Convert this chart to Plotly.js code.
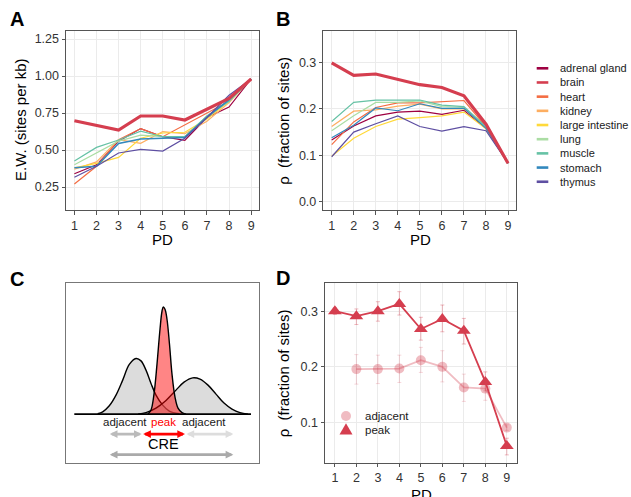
<!DOCTYPE html>
<html>
<head>
<meta charset="utf-8">
<script src="https://cdn.plot.ly/plotly-3.0.1.min.js"></script>
<style>
html,body{margin:0;padding:0;background:#fff;}
#chart{width:631px;height:497px;}
</style>
</head>
<body>
<div id="chart"></div>
<script>
// ---------------- DATA ----------------
const PD = [1, 2, 3, 4, 5, 6, 7, 8, 9];
const tissues = ['adrenal gland', 'brain', 'heart', 'kidney', 'large intestine', 'lung', 'muscle', 'stomach', 'thymus'];
const tissueColors = ['#9E0142', '#D53E4F', '#F46D43', '#FDAE61', '#FFD93A', '#ABDDA4', '#66C2A5', '#3288BD', '#5E4FA2'];

// Panel A: E.W. (sites per kb)
const ewAdrenalGland   = [0.34, 0.40, 0.56, 0.645, 0.59, 0.565, 0.72, 0.79, 0.98];
const ewBrain          = [0.698, 0.669, 0.635, 0.73, 0.73, 0.703, 0.775, 0.849, 0.98];
const ewHeart          = [0.27, 0.39, 0.57, 0.645, 0.59, 0.67, 0.75, 0.83, 0.98];
const ewKidney         = [0.37, 0.42, 0.57, 0.545, 0.625, 0.61, 0.695, 0.82, 0.98];
const ewLargeIntestine = [0.38, 0.41, 0.45, 0.58, 0.615, 0.62, 0.71, 0.83, 0.98];
const ewLung           = [0.40, 0.48, 0.56, 0.60, 0.59, 0.59, 0.73, 0.83, 0.98];
const ewMuscle         = [0.426, 0.518, 0.568, 0.628, 0.59, 0.59, 0.73, 0.83, 0.98];
const ewStomach        = [0.38, 0.39, 0.545, 0.575, 0.58, 0.585, 0.72, 0.84, 0.98];
const ewThymus         = [0.316, 0.39, 0.48, 0.505, 0.493, 0.58, 0.72, 0.87, 0.98];

// Panel B: rho (fraction of sites)
const rhoAdrenalGland   = [0.133, 0.163, 0.185, 0.193, 0.195, 0.188, 0.197, 0.158, 0.083];
const rhoBrain          = [0.299, 0.272, 0.275, 0.263, 0.252, 0.246, 0.228, 0.167, 0.083];
const rhoHeart          = [0.123, 0.172, 0.203, 0.213, 0.213, 0.215, 0.218, 0.162, 0.083];
const rhoKidney         = [0.162, 0.195, 0.198, 0.206, 0.210, 0.200, 0.200, 0.160, 0.083];
const rhoLargeIntestine = [0.098, 0.137, 0.162, 0.178, 0.181, 0.185, 0.193, 0.157, 0.083];
const rhoLung           = [0.153, 0.185, 0.214, 0.214, 0.217, 0.205, 0.203, 0.160, 0.083];
const rhoMuscle         = [0.173, 0.214, 0.219, 0.219, 0.219, 0.208, 0.205, 0.162, 0.083];
const rhoStomach        = [0.138, 0.165, 0.202, 0.196, 0.211, 0.201, 0.201, 0.158, 0.083];
const rhoThymus         = [0.097, 0.150, 0.168, 0.185, 0.162, 0.152, 0.162, 0.153, 0.083];

// Panel C: schematic density outlines (position, height)
const adjLeftPos   = [97.7, 102.7, 109.3, 116, 122.7, 129.3, 136, 141, 146, 151, 156, 162.7, 169.3, 179.3];
const adjLeftDens  = [0.3, 2.3, 8.3, 19, 34, 49.7, 55.7, 53.3, 44, 30.7, 19, 9, 3, 0.3];
const adjRightPos  = [138, 146, 156, 166, 176, 184, 192.7, 200, 208, 216, 224, 232, 240, 248];
const adjRightDens = [0, 1.5, 6, 13.7, 24, 32, 36.3, 35, 29, 20, 11, 5, 1.5, 0];
const peakPos      = [148, 151, 154, 157, 160, 162, 163.3, 165, 167, 169.5, 172, 175, 178, 182, 186];
const peakDens     = [0, 4, 20, 50, 85, 103, 107.3, 105, 95, 70, 40, 17, 6, 1.5, 0];
const baselinePos  = [74.3, 251];
const baselineDens = [0, 0];
const creLabels    = ['adjacent', 'peak', 'adjacent', 'CRE'];

// Panel D: peak vs adjacent
const peakRho       = [0.300, 0.291, 0.300, 0.313, 0.268, 0.286, 0.265, 0.173, 0.058];
const peakUpper     = [0.306, 0.304, 0.317, 0.335, 0.289, 0.311, 0.287, 0.191, 0.072];
const peakLower     = [0.294, 0.276, 0.282, 0.293, 0.248, 0.263, 0.241, 0.157, 0.042];
const adjacentRho   = [null, 0.196, 0.196, 0.197, 0.212, 0.200, 0.163, 0.161, 0.091];
const adjacentUpper = [null, 0.222, 0.221, 0.221, 0.235, 0.229, 0.187, 0.179, 0.096];
const adjacentLower = [null, 0.169, 0.170, 0.172, 0.190, 0.173, 0.138, 0.140, 0.086];
const dSeries = ['adjacent', 'peak'];

const ewSeries  = [ewAdrenalGland, ewBrain, ewHeart, ewKidney, ewLargeIntestine, ewLung, ewMuscle, ewStomach, ewThymus];
const rhoSeries = [rhoAdrenalGland, rhoBrain, rhoHeart, rhoKidney, rhoLargeIntestine, rhoLung, rhoMuscle, rhoStomach, rhoThymus];

// ---------------- HELPERS ----------------
const W = 631, H = 497;
const px = v => v / W;
const py = v => 1 - v / H;
const FONT = 'Liberation Sans, Arial, Helvetica, sans-serif';
const AXC = '#555555';
const GRID = '#EBEBEB';
const BRAIN = '#D53E4F';

const traces = [];
// draw brain last so thick line is on top
const order = [0, 2, 3, 4, 5, 6, 7, 8, 1];
order.forEach(i => {
  const w = (i === 1) ? 3.2 : 1.2;
  traces.push({x: PD, y: ewSeries[i], type: 'scatter', mode: 'lines', name: tissues[i],
    line: {color: tissueColors[i], width: (i === 7 ? 1.6 : w)}, xaxis: 'x', yaxis: 'y', showlegend: false, hoverinfo: 'skip'});
});
order.forEach(i => {
  const w = (i === 1) ? 3.2 : 1.2;
  traces.push({x: PD, y: rhoSeries[i], type: 'scatter', mode: 'lines', name: tissues[i],
    line: {color: tissueColors[i], width: w}, xaxis: 'x2', yaxis: 'y2', showlegend: false, hoverinfo: 'skip'});
});

// Panel C
const grayFill = 'rgba(185,185,185,0.5)';
traces.push({x: adjLeftPos, y: adjLeftDens, type: 'scatter', mode: 'lines', fill: 'tozeroy',
  fillcolor: grayFill, line: {color: '#000', width: 1.4, shape: 'spline', smoothing: 1}, xaxis: 'x3', yaxis: 'y3', showlegend: false, hoverinfo: 'skip'});
traces.push({x: adjRightPos, y: adjRightDens, type: 'scatter', mode: 'lines', fill: 'tozeroy',
  fillcolor: grayFill, line: {color: '#000', width: 1.4, shape: 'spline', smoothing: 1}, xaxis: 'x3', yaxis: 'y3', showlegend: false, hoverinfo: 'skip'});
traces.push({x: peakPos, y: peakDens, type: 'scatter', mode: 'lines', fill: 'tozeroy',
  fillcolor: 'rgba(255,0,0,0.48)', line: {color: '#000', width: 1.4, shape: 'spline', smoothing: 1}, xaxis: 'x3', yaxis: 'y3', showlegend: false, hoverinfo: 'skip'});
traces.push({x: baselinePos, y: baselineDens, type: 'scatter', mode: 'lines',
  line: {color: '#000', width: 1.6}, xaxis: 'x3', yaxis: 'y3', showlegend: false, hoverinfo: 'skip'});

// Panel D
const adjCol = 'rgba(213,62,79,0.35)';
traces.push({x: PD, y: adjacentRho, type: 'scatter', mode: 'lines+markers', name: dSeries[0],
  line: {color: adjCol, width: 1.8}, marker: {symbol: 'circle', size: 10, color: adjCol},
  error_y: {type: 'data', array: adjacentUpper.map((u, i) => u === null ? null : u - adjacentRho[i]),
    arrayminus: adjacentLower.map((l, i) => l === null ? null : adjacentRho[i] - l), color: 'rgba(213,62,79,0.25)', thickness: 0.8, width: 2},
  xaxis: 'x4', yaxis: 'y4', showlegend: false, hoverinfo: 'skip', connectgaps: false});
traces.push({x: PD, y: peakRho, type: 'scatter', mode: 'lines+markers', name: dSeries[1],
  line: {color: BRAIN, width: 1.8}, marker: {symbol: 'triangle-up', size: 12, color: BRAIN},
  error_y: {type: 'data', array: peakUpper.map((u, i) => u - peakRho[i]),
    arrayminus: peakLower.map((l, i) => peakRho[i] - l), color: 'rgba(213,62,79,0.45)', thickness: 0.8, width: 2},
  xaxis: 'x4', yaxis: 'y4', showlegend: false, hoverinfo: 'skip'});

// ---------------- AXES ----------------
function dataAxis(domain, extra) {
  return Object.assign({
    domain: domain, showline: true, mirror: true, linecolor: AXC, linewidth: 1,
    ticks: 'outside', ticklen: 3.5, tickcolor: AXC, tickwidth: 1,
    showgrid: true, gridcolor: GRID, gridwidth: 1, zeroline: false,
    tickfont: {family: FONT, size: 12.5, color: '#333'}, automargin: false
  }, extra);
}
const titleFont = {family: FONT, size: 15, color: '#000'};
const yDomTop = [py(210), py(31)];
const yDomBot = [py(462.7), py(283.3)];

const layout = {
  width: W, height: H, margin: {l: 0, r: 0, t: 0, b: 0},
  paper_bgcolor: '#fff', plot_bgcolor: '#fff', showlegend: false, hovermode: false,
  font: {family: FONT},
  xaxis: dataAxis([px(66), px(259.3)], {anchor: 'y', range: [0.62, 9.37], tickvals: PD}),
  yaxis: dataAxis(yDomTop, {anchor: 'x', range: [0.095, 1.304], tickvals: [0.25, 0.5, 0.75, 1.0, 1.25], tickformat: '.2f'}),
  xaxis2: dataAxis([px(323.3), px(516.4)], {anchor: 'y2', range: [0.62, 9.38], tickvals: PD}),
  yaxis2: dataAxis(yDomTop, {anchor: 'x2', range: [-0.0175, 0.3675], tickvals: [0, 0.1, 0.2, 0.3], tickformat: '.1f'}),
  xaxis3: {domain: [px(66), px(259.3)], anchor: 'y3', range: [66, 259.3], showline: true, mirror: true, linecolor: '#777', linewidth: 1,
    showgrid: false, zeroline: false, showticklabels: false, ticks: ''},
  yaxis3: {domain: [py(463), py(283.3)], anchor: 'x3', range: [-49, 131], showline: true, mirror: true, linecolor: '#777', linewidth: 1,
    showgrid: false, zeroline: false, showticklabels: false, ticks: ''},
  xaxis4: dataAxis([px(325), px(516.7)], {anchor: 'y4', range: [0.54, 9.46], tickvals: PD}),
  yaxis4: dataAxis(yDomBot, {anchor: 'x4', range: [0.028, 0.35], tickvals: [0.1, 0.2, 0.3], tickformat: '.1f'}),
  annotations: [],
  shapes: []
};

// Axis titles (placed as annotations for exact positions)
const rhoTitle = 'ρ\u00A0 (fraction of sites)';
[['PD', 162.6, 239.5, 0], ['E.W. (sites per kb)', 20, 120, -90],
 ['PD', 420, 239.5, 0], [rhoTitle, 283.3, 120.5, -90],
 ['PD', 421, 494.5, 0], [rhoTitle, 283.3, 373, -90]].forEach(t => {
  layout.annotations.push({text: t[0], xref: 'paper', yref: 'paper', x: px(t[1]), y: py(t[2]), xanchor: 'center', yanchor: 'middle',
    textangle: t[3], showarrow: false, font: titleFont});
});

// Panel letters
[['A', 16.7, 19.5], ['B', 282.5, 19.5], ['C', 16.7, 278.5], ['D', 282.5, 278]].forEach(p => {
  layout.annotations.push({text: '<b>' + p[0] + '</b>', xref: 'paper', yref: 'paper', x: px(p[1]), y: py(p[2]),
    xanchor: 'center', yanchor: 'middle', showarrow: false, font: {family: FONT, size: 20, color: '#000'}});
});

// Main tissue legend (manual, compact like the reference)
tissues.forEach((t, i) => {
  const yy = 68.3 + i * 14.18;
  layout.shapes.push({type: 'line', xref: 'paper', yref: 'paper', x0: px(536.7), x1: px(548.3), y0: py(yy), y1: py(yy),
    line: {color: tissueColors[i], width: 2.6}});
  layout.annotations.push({text: t, xref: 'paper', yref: 'paper', x: px(557.5), y: py(yy), xanchor: 'left', yanchor: 'middle',
    showarrow: false, font: {family: FONT, size: 11, color: '#1a1a1a'}});
});

// Panel D legend (manual)
layout.shapes.push({type: 'circle', xref: 'paper', yref: 'paper', xsizemode: 'pixel', ysizemode: 'pixel',
  xanchor: px(346), yanchor: py(416), x0: -5, x1: 5, y0: -5, y1: 5, fillcolor: adjCol, line: {width: 0}});
layout.shapes.push({type: 'path', xref: 'paper', yref: 'paper', xsizemode: 'pixel', ysizemode: 'pixel',
  xanchor: px(346), yanchor: py(430), path: 'M-6.5,-4.5 L6.5,-4.5 L0,6.8 Z', fillcolor: BRAIN, line: {width: 0}});
[[dSeries[0], 416], [dSeries[1], 430]].forEach(p => {
  layout.annotations.push({text: p[0], xref: 'paper', yref: 'paper', x: px(362.5), y: py(p[1]), xanchor: 'left', yanchor: 'middle',
    showarrow: false, font: {family: FONT, size: 11.5, color: '#1a1a1a'}});
});

// Panel C text labels
const cLab = {xref: 'x3', yref: 'y3', showarrow: false, xanchor: 'center', yanchor: 'middle'};
layout.annotations.push(Object.assign({text: creLabels[0], x: 125.2, y: -8, font: {family: FONT, size: 11.5, color: '#1a1a1a'}}, cLab));
layout.annotations.push(Object.assign({text: creLabels[1], x: 163.5, y: -8, font: {family: FONT, size: 11.5, color: '#FF0000'}}, cLab));
layout.annotations.push(Object.assign({text: creLabels[2], x: 204.3, y: -8, font: {family: FONT, size: 11.5, color: '#1a1a1a'}}, cLab));
layout.annotations.push(Object.assign({text: creLabels[3], x: 163.5, y: -30.3, font: {family: FONT, size: 14.5, color: '#000'}}, cLab));

// Panel C arrows
function arrow(x0, x1, y, color) {
  return {xref: 'x3', yref: 'y3', axref: 'x3', ayref: 'y3', x: x1, y: y, ax: x0, ay: y, text: '',
    showarrow: true, arrowside: 'end+start', arrowhead: 2, arrowsize: 0.55, arrowwidth: 2.8, arrowcolor: color,
    standoff: 0, startstandoff: 0};
}
layout.annotations.push(arrow(108.3, 141.7, -20, '#BBBBBB'));
layout.annotations.push(arrow(185, 233.3, -20, '#DDDDDD'));
layout.annotations.push(arrow(141.7, 185, -20, '#FF0000'));
layout.annotations.push(arrow(108.3, 233.3, -40.7, '#AAAAAA'));

Plotly.newPlot('chart', traces, layout, {staticPlot: true, displayModeBar: false});
</script>
</body>
</html>
